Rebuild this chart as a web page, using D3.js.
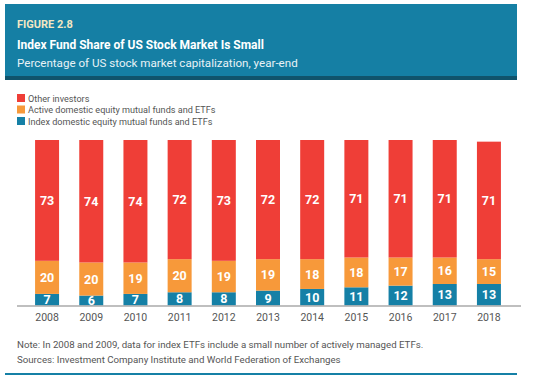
<!DOCTYPE html>
<html lang="en">
<head>
  <meta charset="UTF-8" />
  <title>Figure 2.8</title>
  <script src="https://d3js.org/d3.v7.min.js"></script>
  <style>
    body { margin: 0; background: #fff; }
    text { font-family: "Roboto", "Open Sans", sans-serif; }
  </style>
</head>
<body>
  <svg id="chart" width="538" height="381"></svg>
  <script>
    const years = ["2008", "2009", "2010", "2011", "2012", "2013", "2014", "2015", "2016", "2017", "2018"];
    const indexFunds = [7, 6, 7, 8, 8, 9, 10, 11, 12, 13, 13];
    const activeFunds = [20, 20, 19, 20, 19, 19, 18, 18, 17, 16, 15];
    const otherInvestors = [73, 74, 74, 72, 73, 72, 72, 71, 71, 71, 71];

    const seriesNames = [
      "Other investors",
      "Active domestic equity mutual funds and ETFs",
      "Index domestic equity mutual funds and ETFs"
    ];
    const colors = {
      index: "#1580a6",
      active: "#f7993a",
      other: "#ef3e37"
    };

    const svg = d3.select("svg#chart");

    // header box
    svg.append("rect").attr("x", 5).attr("y", 4).attr("width", 512).attr("height", 72).attr("fill", "#157fa4");
    svg.append("rect").attr("x", 5).attr("y", 76).attr("width", 512).attr("height", 4).attr("fill", "#10536b");
    svg.append("text").attr("x", 17).attr("y", 28).attr("fill", "#f3e7c3")
      .attr("font-size", 11).attr("font-weight", "bold").text("FIGURE 2.8");
    svg.append("text").attr("x", 17).attr("y", 49).attr("fill", "#fff")
      .attr("font-size", 12).attr("font-weight", "bold").text("Index Fund Share of US Stock Market Is Small");
    svg.append("text").attr("x", 17).attr("y", 67).attr("fill", "#e8f2f6")
      .attr("font-size", 11.6).text("Percentage of US stock market capitalization, year-end");

    // legend
    const legendColors = [colors.other, colors.active, colors.index];
    const legend = svg.append("g");
    seriesNames.forEach((name, i) => {
      const y = 94 + i * 11.5;
      legend.append("rect").attr("x", 17).attr("y", y).attr("width", 8).attr("height", 8).attr("fill", legendColors[i]);
      legend.append("text").attr("x", 28).attr("y", y + 7.5).attr("fill", "#555")
        .attr("font-size", 9.1).text(name);
    });

    // stacked data
    const data = years.map((yr, i) => ({
      year: yr,
      index: indexFunds[i],
      active: activeFunds[i],
      other: otherInvestors[i]
    }));
    const keys = ["index", "active", "other"];
    const stacked = d3.stack().keys(keys)(data);

    const x = d3.scaleBand().domain(years).range([25, 511]).paddingInner(0.457).paddingOuter(0.228);
    const y = d3.scaleLinear().domain([0, 100]).range([305.5, 140]);

    const chart = svg.append("g");
    const layers = chart.selectAll("g.layer")
      .data(stacked)
      .join("g")
      .attr("class", "layer")
      .attr("fill", d => colors[d.key]);

    layers.selectAll("rect")
      .data(d => d)
      .join("rect")
      .attr("x", d => x(d.data.year))
      .attr("width", x.bandwidth())
      .attr("y", d => y(d[1]))
      .attr("height", d => y(d[0]) - y(d[1]));

    layers.selectAll("text")
      .data(d => d.map(v => ({ v, key: d.key })))
      .join("text")
      .attr("x", d => x(d.v.data.year) + x.bandwidth() / 2)
      .attr("y", d => (y(d.v[0]) + y(d.v[1])) / 2)
      .attr("dy", "0.36em")
      .attr("text-anchor", "middle")
      .attr("fill", "#fff")
      .attr("font-size", 12.5)
      .attr("font-weight", "bold")
      .text(d => d.v.data[d.key]);

    // axis
    const xAxis = d3.axisBottom(x).tickSize(0).tickPadding(8);
    const axisG = svg.append("g").attr("transform", "translate(0,305.5)").call(xAxis);
    axisG.select(".domain").remove();
    axisG.selectAll("text").attr("font-size", 10.5).attr("fill", "#555").style("font-family", null);
    svg.append("line").attr("x1", 17).attr("x2", 521).attr("y1", 306).attr("y2", 306)
      .attr("stroke", "#aaa").attr("stroke-width", 1.5);

    // notes
    svg.append("text").attr("x", 17).attr("y", 348).attr("fill", "#555").attr("font-size", 9.7)
      .text("Note: In 2008 and 2009, data for index ETFs include a small number of actively managed ETFs.");
    svg.append("text").attr("x", 17).attr("y", 363).attr("fill", "#555").attr("font-size", 9.7)
      .text("Sources: Investment Company Institute and World Federation of Exchanges");

    svg.append("rect").attr("x", 5).attr("y", 373).attr("width", 512).attr("height", 2).attr("fill", "#1580a6");
  </script>
</body>
</html>
